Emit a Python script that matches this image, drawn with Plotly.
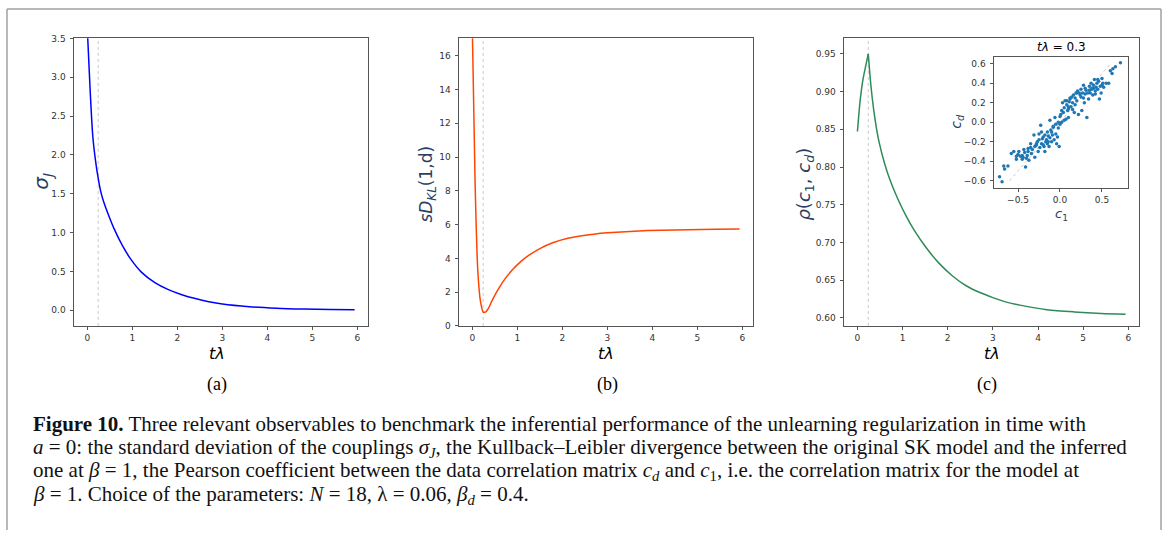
import plotly.graph_objects as go

# ---------------- data ----------------
t_a = [0, 0.06, 0.12, 0.18, 0.24, 0.30, 0.36, 0.48, 0.60, 0.78, 0.96, 1.2, 1.5, 1.8, 2.1, 2.4, 2.7, 3.0, 3.6, 4.2, 4.8, 5.4, 5.94]
sigma_J = [3.6, 2.85, 2.24, 1.93, 1.70, 1.52, 1.40, 1.21, 1.04, 0.83, 0.66, 0.49, 0.355, 0.265, 0.20, 0.15, 0.11, 0.08, 0.045, 0.025, 0.014, 0.008, 0.005]

t_b = [0, 0.06, 0.12, 0.18, 0.24, 0.30, 0.36, 0.42, 0.48, 0.60, 0.72, 0.90, 1.08, 1.26, 1.5, 1.8, 2.1, 2.4, 2.7, 3.0, 3.6, 4.2, 4.8, 5.4, 5.94]
kl = [17.4, 8.5, 3.3, 1.45, 0.82, 0.82, 1.05, 1.40, 1.72, 2.28, 2.77, 3.35, 3.82, 4.19, 4.58, 4.94, 5.18, 5.32, 5.43, 5.51, 5.61, 5.67, 5.70, 5.72, 5.74]

t_c = [0, 0.06, 0.12, 0.18, 0.24, 0.30, 0.36, 0.42, 0.48, 0.60, 0.72, 0.90, 1.08, 1.26, 1.5, 1.8, 2.1, 2.4, 2.7, 3.0, 3.3, 3.6, 4.2, 4.8, 5.4, 5.94]
rho = [0.847, 0.888, 0.915, 0.933, 0.950, 0.907, 0.876, 0.852, 0.833, 0.805, 0.783, 0.757, 0.735, 0.716, 0.695, 0.673, 0.656, 0.643, 0.634, 0.627, 0.621, 0.617, 0.611, 0.608, 0.606, 0.605]

t_mark = 0.24

c1 = [-0.72, -0.69, -0.67, -0.66, -0.62, -0.58, -0.55, -0.52, -0.52, -0.50, -0.49, -0.47, -0.45, -0.44, -0.43,
      -0.42, -0.41, -0.40, -0.39, -0.38, -0.37, -0.35, -0.34, -0.33, -0.31, -0.30, -0.29, -0.28, -0.27, -0.26,
      -0.25, -0.24, -0.23, -0.22, -0.21, -0.20, -0.19, -0.18, -0.17, -0.16, -0.15, -0.15, -0.14, -0.13, -0.12,
      -0.12, -0.11, -0.10, -0.09, -0.08, -0.07, -0.06, -0.05, -0.04, -0.03, -0.02, -0.01, 0.00, 0.01, 0.02,
      0.03, 0.04, 0.05, 0.06, 0.07, 0.08, 0.09, 0.10, 0.11, 0.12, 0.13, 0.14, 0.15, 0.16, 0.17,
      0.18, 0.19, 0.20, 0.21, 0.22, 0.23, 0.24, 0.25, 0.26, 0.27, 0.28, 0.29, 0.30, 0.31, 0.32,
      0.33, 0.34, 0.35, 0.36, 0.37, 0.38, 0.39, 0.40, 0.41, 0.42, 0.43, 0.44, 0.45, 0.46, 0.47,
      0.48, 0.49, 0.50, 0.51, 0.52, 0.55, 0.58, 0.60, 0.62, 0.63, 0.66, 0.72, -0.35, -0.30, -0.25,
      -0.20, -0.18, -0.10, -0.05, 0.00, 0.05, 0.10, 0.15, 0.20, 0.25, 0.30, 0.35, 0.40, 0.45, 0.50,
      -0.45, -0.38, -0.28, -0.22, -0.14, -0.08, 0.02, 0.08, 0.12, 0.18, 0.28, 0.38, 0.42, 0.10, -0.02]
cd = [-0.56, -0.61, -0.45, -0.48, -0.45, -0.32, -0.30, -0.38, -0.35, -0.33, -0.30, -0.35, -0.34, -0.36, -0.28,
      -0.31, -0.46, -0.37, -0.34, -0.30, -0.39, -0.22, -0.32, -0.28, -0.13, -0.25, -0.24, -0.22, -0.20, -0.30,
      -0.18, -0.26, -0.03, -0.22, -0.17, -0.15, -0.25, -0.13, -0.20, -0.18, -0.10, -0.22, -0.14, -0.25, -0.16,
      0.02, -0.08, -0.20, -0.13, -0.05, -0.18, 0.05, -0.12, -0.22, -0.15, -0.06, -0.25, -0.02, 0.08, 0.00,
      0.20, 0.10, 0.15, 0.22, 0.03, 0.18, 0.12, 0.05, 0.21, 0.24, 0.16, 0.26, 0.20, 0.28, 0.10,
      0.25, 0.30, 0.22, 0.32, 0.08, 0.30, 0.28, 0.34, 0.12, 0.30, 0.25, 0.20, 0.35, 0.33, 0.05,
      0.30, 0.24, 0.37, 0.30, 0.40, 0.35, 0.28, 0.38, 0.44, 0.32, 0.36, 0.40, 0.34, 0.42, 0.24,
      0.37, 0.30, 0.45, 0.40, 0.36, 0.40, 0.40, 0.53, 0.50, 0.55, 0.57, 0.61, -0.26, -0.36, -0.12,
      -0.23, -0.30, -0.10, -0.02, 0.06, 0.02, 0.16, 0.13, 0.30, 0.26, 0.29, 0.33, 0.35, 0.44, 0.38,
      -0.38, -0.27, -0.23, -0.10, -0.20, -0.04, 0.12, 0.22, 0.25, 0.18, 0.38, 0.34, 0.29, 0.14, 0.00]

diag = [-0.6, 0.6]

# ---------------- figure ----------------
W, H = 1167, 535


def px(x):
    return x / W


def py(y):
    return 1 - y / H


def split_at(xs, ys, xk):
    """split a curve into the part up to xk and the part from xk (both include xk)."""
    i = xs.index(xk)
    return (xs[:i + 1], ys[:i + 1]), (xs[i:], ys[i:])


fig = go.Figure()

fig.add_trace(go.Scatter(x=t_a, y=sigma_J, mode="lines", line=dict(color="#0000ff", width=1.5, shape="spline", smoothing=0.8),
                         xaxis="x", yaxis="y", showlegend=False))

(bx1, by1), (bx2, by2) = split_at(t_b, kl, 0.30)
for xs, ys in [(bx1, by1), (bx2, by2)]:
    fig.add_trace(go.Scatter(x=xs, y=ys, mode="lines", line=dict(color="#ff4500", width=1.5, shape="spline", smoothing=0.6),
                             xaxis="x2", yaxis="y2", showlegend=False))

(cx1, cy1), (cx2, cy2) = split_at(t_c, rho, t_mark)
for xs, ys in [(cx1, cy1), (cx2, cy2)]:
    fig.add_trace(go.Scatter(x=xs, y=ys, mode="lines", line=dict(color="#2e8b57", width=1.5, shape="spline", smoothing=0.8),
                             xaxis="x3", yaxis="y3", showlegend=False))

fig.add_trace(go.Scatter(x=diag, y=diag, mode="lines", line=dict(color="#c8c8c8", width=1, dash="dot"),
                         xaxis="x4", yaxis="y4", showlegend=False))
fig.add_trace(go.Scatter(x=c1, y=cd, mode="markers", marker=dict(color="#1f77b4", size=3.5),
                         xaxis="x4", yaxis="y4", showlegend=False))

tick_font = dict(family="DejaVu Sans", size=9, color="#333")
spine_x = dict(showline=True, mirror=True, linecolor="#555", linewidth=1, ticks="outside", ticklen=3.5,
               tickcolor="#555", showgrid=False, zeroline=False, tickfont=tick_font)
spine_y = dict(spine_x, ticklabelstandoff=2)

y_top, y_bot = 34, 327
fig.update_layout(
    width=W, height=H, margin=dict(l=0, r=0, t=0, b=0),
    paper_bgcolor="white", plot_bgcolor="white",
    xaxis=dict(domain=[px(74), px(368)], range=[-0.2975, 6.2375], tickvals=[0, 1, 2, 3, 4, 5, 6], anchor="y", **spine_x),
    yaxis=dict(domain=[py(y_bot), py(y_top)], range=[-0.202, 3.5], tickvals=[0, 0.5, 1, 1.5, 2, 2.5, 3, 3.5],
               tickformat=".1f", anchor="x", **spine_y),
    xaxis2=dict(domain=[px(459), px(753)], range=[-0.2975, 6.2375], tickvals=[0, 1, 2, 3, 4, 5, 6], anchor="y2", **spine_x),
    yaxis2=dict(domain=[py(y_bot), py(y_top)], range=[0, 17.03], tickvals=[0, 2, 4, 6, 8, 10, 12, 14, 16],
                anchor="x2", **spine_y),
    xaxis3=dict(domain=[px(844), px(1139)], range=[-0.2975, 6.2375], tickvals=[0, 1, 2, 3, 4, 5, 6], anchor="y3", **spine_x),
    yaxis3=dict(domain=[py(y_bot), py(y_top)], range=[0.5895, 0.9705],
                tickvals=[0.60, 0.65, 0.70, 0.75, 0.80, 0.85, 0.90, 0.95], tickformat=".2f", anchor="x3", **spine_y),
    xaxis4=dict(domain=[px(994), px(1128)], range=[-0.786, 0.81], tickvals=[-0.5, 0, 0.5],
                ticktext=["\u22120.5", "0.0", "0.5"], anchor="y4", **spine_x),
    yaxis4=dict(domain=[py(186), py(53)], range=[-0.67, 0.67], tickvals=[-0.6, -0.4, -0.2, 0, 0.2, 0.4, 0.6],
                ticktext=["\u22120.6", "\u22120.4", "\u22120.2", "0.0", "0.2", "0.4", "0.6"], anchor="x4", **spine_y),
)

# vertical dotted markers
for xr, yr in [("x", "y domain"), ("x2", "y2 domain"), ("x3", "y3 domain")]:
    fig.add_shape(type="line", xref=xr, yref=yr, x0=t_mark, x1=t_mark, y0=0, y1=1,
                  line=dict(color="#c8c8c8", width=1, dash="dot"), layer="below")

# outer frame
frame = dict(color="#a0a0a0", width=1.5)
fig.add_shape(type="line", xref="paper", yref="paper", x0=px(7), x1=px(1161), y0=py(4), y1=py(4), line=frame)
fig.add_shape(type="line", xref="paper", yref="paper", x0=px(7), x1=px(7), y0=py(4), y1=0, line=frame)
fig.add_shape(type="line", xref="paper", yref="paper", x0=px(1161), x1=px(1161), y0=py(4), y1=0, line=frame)

ann = []
lab_font = dict(family="DejaVu Sans", size=16, color="black")
# x-axis titles
for xc in [217, 606, 992]:
    ann.append(dict(x=px(xc), y=py(355), xref="paper", yref="paper", text="<i>t\u03bb</i>",
                    showarrow=False, font=lab_font, xanchor="center", yanchor="middle"))
# y-axis titles
ann.append(dict(x=px(42), y=py(180), xref="paper", yref="paper", text="<i>\u03c3<sub>J</sub></i>",
                showarrow=False, font=dict(family="DejaVu Sans", size=20), textangle=-90, xanchor="center", yanchor="middle"))
ann.append(dict(x=px(428), y=py(183), xref="paper", yref="paper", text="<i>sD<sub>KL</sub></i>(1,d)",
                showarrow=False, font=dict(family="DejaVu Sans", size=17), textangle=-90, xanchor="center", yanchor="middle"))
ann.append(dict(x=px(805), y=py(183), xref="paper", yref="paper", text="<i>\u03c1</i>(<i>c</i><sub>1</sub>, <i>c<sub>d</sub></i>)",
                showarrow=False, font=dict(family="DejaVu Sans", size=18), textangle=-90, xanchor="center", yanchor="middle"))
# inset labels
ann.append(dict(x=px(1061), y=py(43), xref="paper", yref="paper", text="<i>t\u03bb</i> = 0.3",
                showarrow=False, font=dict(family="DejaVu Sans", size=12, color="black"), xanchor="center", yanchor="middle"))
ann.append(dict(x=px(957), y=py(119), xref="paper", yref="paper", text="<i>c<sub>d</sub></i>",
                showarrow=False, font=dict(family="DejaVu Sans", size=14), textangle=-90, xanchor="center", yanchor="middle"))
ann.append(dict(x=px(1061), y=py(213), xref="paper", yref="paper", text="<i>c</i><sub>1</sub>",
                showarrow=False, font=dict(family="DejaVu Sans", size=13), xanchor="center", yanchor="middle"))
# panel letters
serif = "Liberation Serif"
for xc, s in [(217, "(a)"), (607, "(b)"), (987, "(c)")]:
    ann.append(dict(x=px(xc), y=py(387), xref="paper", yref="paper", text=s, showarrow=False,
                    font=dict(family=serif, size=18, color="black"), xanchor="center", yanchor="middle"))

caption = [
    "<b>Figure 10.</b> Three relevant observables to benchmark the inferential performance of the unlearning regularization in time with",
    "<i>a</i> = 0: the standard deviation of the couplings <i>\u03c3<sub>J</sub></i>, the Kullback\u2013Leibler divergence between the original SK model and the inferred",
    "one at <i>\u03b2</i> = 1, the Pearson coefficient between the data correlation matrix <i>c<sub>d</sub></i> and <i>c</i><sub>1</sub>, i.e. the correlation matrix for the model at",
    "<i>\u03b2</i> = 1. Choice of the parameters: <i>N</i> = 18, \u03bb = 0.06, <i>\u03b2<sub>d</sub></i> = 0.4.",
]
for i, line in enumerate(caption):
    ann.append(dict(x=px(31), y=py(427 + 24 * i), xref="paper", yref="paper", text=line, showarrow=False,
                    font=dict(family=serif, size=21, color="#111"), xanchor="left", yanchor="middle"))

fig.update_layout(annotations=ann)
fig.write_html("out.html")
